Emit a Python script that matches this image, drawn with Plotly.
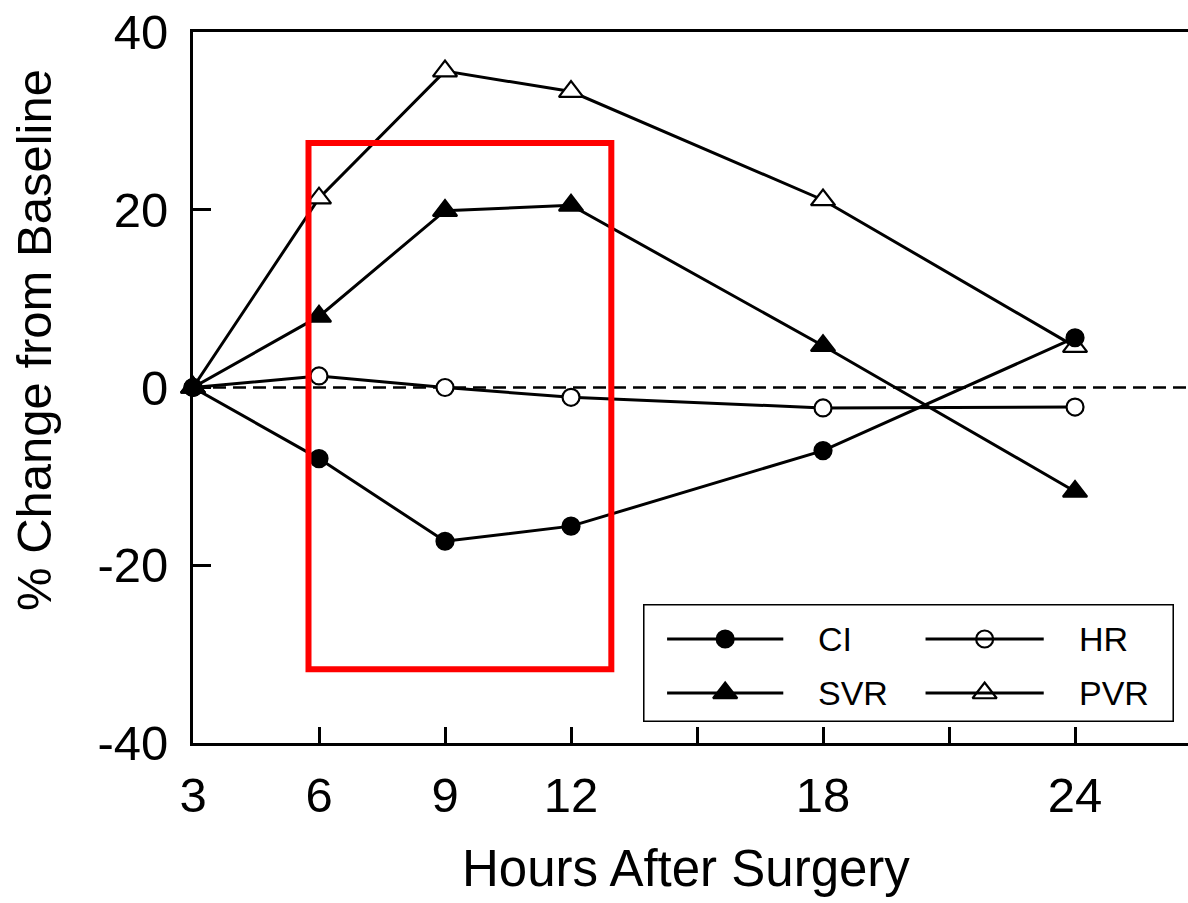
import plotly.graph_objects as go

# ---- data ----
hours = [3, 6, 9, 12, 18, 24]
ci = [0, -8.0, -17.3, -15.6, -7.1, 5.6]
hr = [0, 1.3, 0.0, -1.1, -2.3, -2.2]
svr = [0, 8.0, 19.9, 20.5, 4.7, -11.7]
pvr = [0, 21.3, 35.6, 33.3, 21.1, 4.6]

x_tick_vals = [3, 6, 9, 12, 15, 18, 21, 24]
x_tick_text = ["3", "6", "9", "12", "", "18", "", "24"]
y_tick_vals = [-40, -20, 0, 20, 40]
y_tick_text = ["-40", "-20", "0", "20", "40"]

x_title = "Hours After Surgery"
y_title = "% Change from Baseline"

# highlighted region (hours, % change)
box_hours = [5.75, 12.96]
box_change = [-31.7, 27.5]

FONT = "Liberation Sans, Arial, Helvetica, sans-serif"

series = [
    # name, values, symbol, fill, legend column, legend row
    ("HR", hr, "circle", "white", 1, 0),
    ("PVR", pvr, "triangle-up", "white", 1, 1),
    ("SVR", svr, "triangle-up", "black", 0, 1),
    ("CI", ci, "circle", "black", 0, 0),
]

def msize(sym):
    return 17 if sym == "circle" else 21

fig = go.Figure()

for name, vals, sym, fill, col, row in series:
    fig.add_trace(go.Scatter(
        x=hours, y=vals, mode="lines+markers", name=name,
        line=dict(color="black", width=3),
        marker=dict(symbol=sym, size=msize(sym), color=fill,
                    line=dict(color="black", width=2.2)),
        cliponaxis=False, showlegend=False,
    ))

# ---- custom legend on an overlay axis pair (pixel-like units inside legend box) ----
LEG_W, LEG_H = 530, 118
row_y = [35, 89]
col_line = [(24, 140), (282, 400)]
col_text = [173, 433]

for name, vals, sym, fill, col, row in series:
    x0, x1 = col_line[col]
    fig.add_shape(type="line", xref="x2", yref="y2", x0=x0, x1=x1,
                  y0=row_y[row], y1=row_y[row],
                  line=dict(color="black", width=3))
    fig.add_trace(go.Scatter(
        x=[(x0 + x1) / 2], y=[row_y[row]], xaxis="x2", yaxis="y2",
        mode="markers",
        marker=dict(symbol=sym, size=msize(sym), color=fill,
                    line=dict(color="black", width=2.2)),
        showlegend=False, hoverinfo="skip", cliponaxis=False,
    ))
    fig.add_annotation(xref="x2", yref="y2", x=col_text[col], y=row_y[row],
                       text=name, showarrow=False, xanchor="left",
                       yanchor="middle",
                       font=dict(family=FONT, size=34, color="black"))

fig.add_shape(type="rect", xref="x2", yref="y2", x0=0, x1=LEG_W, y0=0, y1=LEG_H,
              line=dict(color="black", width=3), fillcolor="white", layer="below")

# zero dashed reference line
fig.add_shape(type="line", xref="paper", yref="y", x0=0, x1=1, y0=0, y1=0,
              line=dict(color="black", width=2.5, dash="13px,7px"), layer="below")

# red highlight rectangle
fig.add_shape(type="rect", xref="x", yref="y",
              x0=box_hours[0], x1=box_hours[1], y0=box_change[0], y1=box_change[1],
              line=dict(color="#ff0000", width=6), fillcolor="rgba(0,0,0,0)",
              layer="above")

# axis titles as annotations (precise placement)
fig.add_annotation(xref="paper", yref="paper", x=0.495, y=-0.1765,
                   text=x_title, showarrow=False, xanchor="center", yanchor="middle",
                   font=dict(family=FONT, size=51, color="black"))
fig.add_annotation(xref="paper", yref="paper", x=-0.1598, y=0.5668,
                   text=y_title, showarrow=False, textangle=-90,
                   xanchor="center", yanchor="middle",
                   font=dict(family=FONT, size=49, color="black"))

fig.update_layout(
    width=1188, height=903,
    margin=dict(l=193, r=0, t=32, b=160),
    paper_bgcolor="white", plot_bgcolor="white",
    showlegend=False,
    font=dict(family=FONT, color="black"),
    xaxis=dict(
        range=[3, 26.69], tickmode="array", tickvals=x_tick_vals, ticktext=x_tick_text,
        showline=True, mirror=True, linecolor="black", linewidth=2.7,
        ticks="inside", ticklen=16, tickwidth=2.7, tickcolor="black",
        showgrid=False, zeroline=False,
        tickfont=dict(family=FONT, size=49, color="black"),
        ticklabelstandoff=7,
    ),
    yaxis=dict(
        range=[-40, 40], tickmode="array", tickvals=y_tick_vals, ticktext=y_tick_text,
        showline=True, linecolor="black", linewidth=2.7,
        ticks="inside", ticklen=18, tickwidth=2.7, tickcolor="black",
        showgrid=False, zeroline=False,
        tickfont=dict(family=FONT, size=49, color="black"),
        ticklabelstandoff=12,
    ),
    xaxis2=dict(domain=[0.4523, 0.9859], range=[0, LEG_W], visible=False,
                anchor="y2", fixedrange=True),
    yaxis2=dict(domain=[0.0295, 0.1955], range=[LEG_H, 0], visible=False,
                anchor="x2", fixedrange=True),
)

fig.write_html("out.html")
